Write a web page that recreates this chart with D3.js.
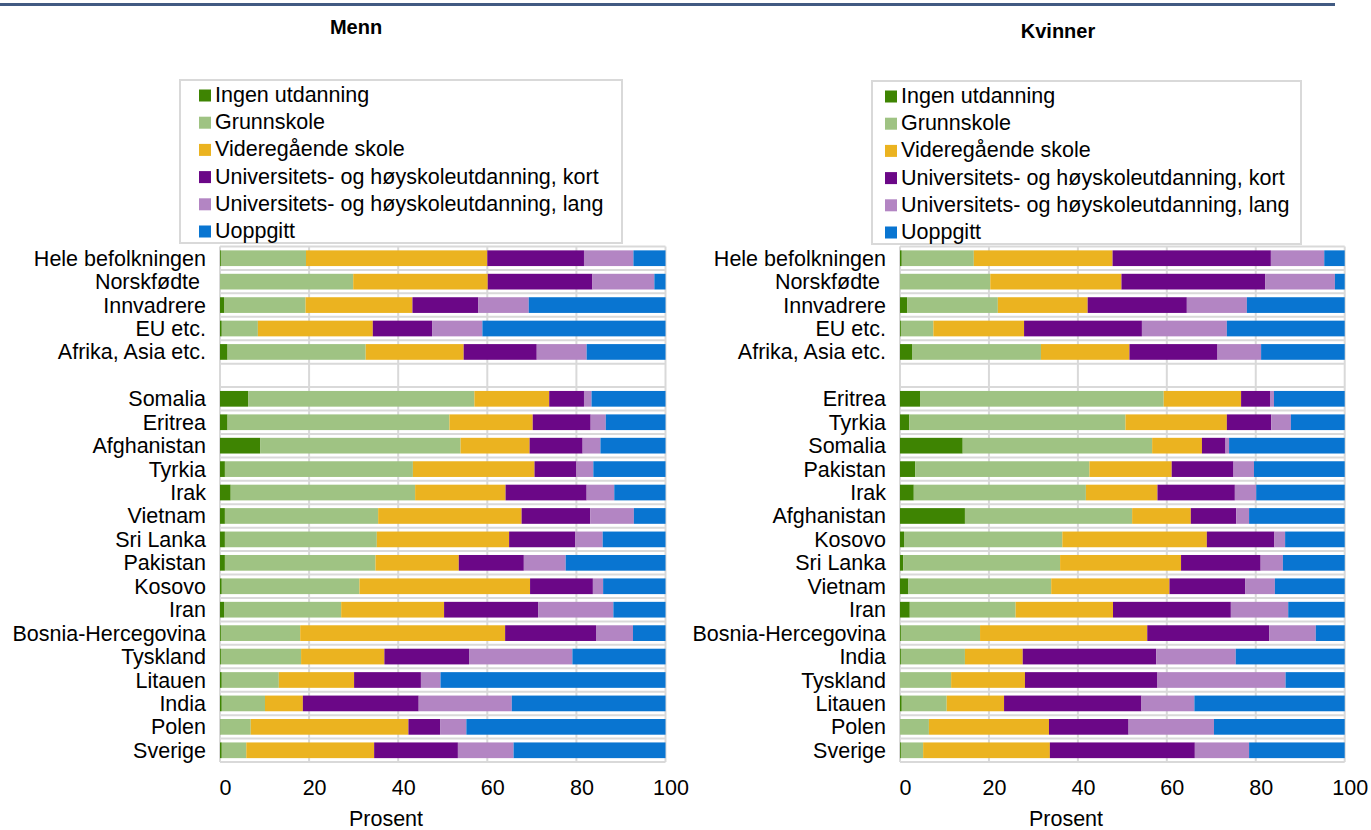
<!DOCTYPE html>
<html>
<head>
<meta charset="utf-8">
<script src="https://cdn.jsdelivr.net/npm/d3@7"></script>
<style>
  body { margin: 0; background: #fff; }
  svg { font-family: "Liberation Sans", Arial, sans-serif; }
  .cat { white-space: pre; }
</style>
</head>
<body>
<svg width="1371" height="830"></svg>
<script>
// serier og farger
var seriesNames = ["Ingen utdanning", "Grunnskole", "Videregående skole",
    "Universitets- og høyskoleutdanning, kort", "Universitets- og høyskoleutdanning, lang", "Uoppgitt"];
var seriesColors = ["#3e8402", "#9fc383", "#ebb320", "#6b0787", "#b385c3", "#0975d1"];
var tickValues = [0, 20, 40, 60, 80, 100];

// Menn
var menCategories = ["Hele befolkningen", "Norskfødte ", "Innvadrere", "EU etc.", "Afrika, Asia etc.", "",
    "Somalia", "Eritrea", "Afghanistan", "Tyrkia", "Irak", "Vietnam", "Sri Lanka", "Pakistan",
    "Kosovo", "Iran", "Bosnia-Hercegovina", "Tyskland", "Litauen", "India", "Polen", "Sverige"];
var menIngen    = [0.2, 0.0, 0.9, 0.4, 1.7, null, 6.3, 1.7, 9.0, 1.1, 2.4, 1.1, 1.1, 1.1, 0.4, 0.9, 0.2, 0.2, 0.4, 0.4, 0.1, 0.4];
var menGrunn    = [19.1, 29.9, 18.3, 8.1, 31.0, null, 50.8, 49.8, 45.0, 42.2, 41.4, 34.4, 34.1, 33.8, 30.9, 26.3, 17.8, 18.0, 12.8, 9.7, 6.8, 5.5];
var menVgs      = [40.7, 30.2, 24.0, 25.8, 22.0, null, 16.8, 18.7, 15.5, 27.3, 20.3, 32.2, 29.7, 18.7, 38.3, 23.1, 46.0, 18.7, 16.9, 8.5, 35.4, 28.7];
var menKort     = [21.7, 23.5, 14.8, 13.3, 16.4, null, 7.8, 13.0, 11.9, 9.4, 18.2, 15.4, 14.8, 14.6, 14.1, 21.1, 20.4, 19.0, 15.0, 26.0, 7.1, 18.8];
var menLang     = [11.1, 13.9, 11.3, 11.3, 11.2, null, 1.7, 3.4, 4.0, 3.8, 6.2, 9.8, 6.2, 9.4, 2.3, 16.9, 8.3, 23.2, 4.4, 20.9, 5.9, 12.5];
var menUoppgitt = [7.2, 2.5, 30.7, 41.1, 17.7, null, 16.6, 13.4, 14.6, 16.2, 11.5, 7.1, 14.1, 22.4, 14.0, 11.7, 7.3, 20.9, 50.5, 34.5, 44.7, 34.1];

// Kvinner
var womenCategories = ["Hele befolkningen", "Norskfødte ", "Innvadrere", "EU etc.", "Afrika, Asia etc.", "",
    "Eritrea", "Tyrkia", "Somalia", "Pakistan", "Irak", "Afghanistan", "Kosovo", "Sri Lanka",
    "Vietnam", "Iran", "Bosnia-Hercegovina", "India", "Tyskland", "Litauen", "Polen", "Sverige"];
var womenIngen    = [0.4, 0.0, 1.6, 0.2, 2.7, null, 4.5, 2.1, 14.1, 3.4, 3.1, 14.6, 0.9, 0.7, 1.9, 2.2, 0.2, 0.2, 0.0, 0.4, 0.0, 0.2];
var womenGrunn    = [16.2, 20.3, 20.4, 7.3, 29.0, null, 54.8, 48.6, 42.6, 39.2, 38.7, 37.6, 35.6, 35.3, 32.1, 23.8, 17.8, 14.4, 11.5, 10.1, 6.5, 5.0];
var womenVgs      = [31.2, 29.5, 20.2, 20.4, 19.9, null, 17.4, 22.8, 11.2, 18.5, 16.1, 13.2, 32.5, 27.2, 26.6, 21.9, 37.6, 13.0, 16.6, 12.9, 27.0, 28.5];
var womenKort     = [35.6, 32.3, 22.3, 26.5, 19.8, null, 6.5, 10.0, 5.3, 13.9, 17.4, 10.2, 15.2, 17.9, 17.0, 26.5, 27.4, 30.0, 29.8, 30.9, 17.9, 32.6];
var womenLang     = [12.0, 15.7, 13.5, 19.1, 9.8, null, 0.9, 4.4, 0.8, 4.6, 4.8, 2.9, 2.4, 5.0, 6.7, 12.9, 10.5, 17.9, 28.8, 11.9, 19.2, 12.2];
var womenUoppgitt = [4.6, 2.2, 22.0, 26.5, 18.8, null, 15.9, 12.1, 26.0, 20.4, 19.9, 21.5, 13.4, 13.9, 15.7, 12.7, 6.5, 24.5, 13.3, 33.8, 29.4, 21.5];

var svg = d3.select("svg");
var gridColor = "#d9d9d9";
var fontSize = 21.5;

// tykk strek øverst
svg.append("rect")
    .attr("x", 0).attr("y", 3)
    .attr("width", 1335).attr("height", 3)
    .attr("fill", "#415a82");

function tegnPanel(opt) {
    var rows = opt.categories.map(function (c, i) {
        var r = { cat: c, idx: i };
        opt.series.forEach(function (s, j) { r[seriesNames[j]] = s[i] == null ? 0 : s[i]; });
        return r;
    });

    var x = d3.scaleLinear().domain([0, 100]).range([opt.x0, opt.x1]);
    var y = d3.scaleBand()
        .domain(rows.map(function (d) { return d.idx; }))
        .range([opt.top, opt.bottom])
        .paddingInner(0.33).paddingOuter(0.165);

    var g = svg.append("g");

    // tittel
    g.append("text")
        .attr("x", opt.titleX).attr("y", opt.titleY)
        .attr("text-anchor", "middle")
        .attr("font-size", 20).attr("font-weight", "bold")
        .text(opt.title);

    // rutenett
    var step = y.step();
    g.selectAll(".hgrid")
        .data(d3.range(rows.length + 1))
        .enter().append("line")
        .attr("x1", opt.x0).attr("x2", opt.x1)
        .attr("y1", function (i) { return opt.top + i * step; })
        .attr("y2", function (i) { return opt.top + i * step; })
        .attr("stroke", gridColor).attr("stroke-width", 2);

    g.selectAll(".vgrid")
        .data(tickValues)
        .enter().append("line")
        .attr("x1", function (d) { return x(d); })
        .attr("x2", function (d) { return x(d); })
        .attr("y1", opt.top).attr("y2", opt.bottom)
        .attr("stroke", gridColor).attr("stroke-width", 2);

    // stolper
    var stack = d3.stack().keys(seriesNames)(rows);
    g.selectAll(".serie")
        .data(stack)
        .enter().append("g")
        .attr("fill", function (d, i) { return seriesColors[i]; })
        .selectAll("rect")
        .data(function (d) { return d.filter(function (p) { return p[1] - p[0] > 0; }); })
        .enter().append("rect")
        .attr("x", function (p) { return x(p[0]); })
        .attr("width", function (p) { return x(p[1]) - x(p[0]); })
        .attr("y", function (p) { return y(p.data.idx); })
        .attr("height", y.bandwidth());

    // kategorier
    g.selectAll(".cat")
        .data(rows)
        .enter().append("text")
        .attr("class", "cat")
        .attr("x", opt.labelX)
        .attr("y", function (d) { return y(d.idx) + y.bandwidth() / 2; })
        .attr("dy", "0.35em")
        .attr("text-anchor", "end")
        .attr("font-size", fontSize)
        .text(function (d) { return d.cat; });

    // x-akse
    var axis = g.append("g")
        .attr("transform", "translate(5," + (opt.bottom + 17.5) + ")")
        .call(d3.axisBottom(x).tickValues(tickValues).tickSize(0).tickPadding(0));
    axis.select(".domain").remove();
    axis.selectAll("text")
        .attr("font-size", fontSize)
        .attr("font-family", "Liberation Sans, Arial, sans-serif")
        .attr("fill", "#000");

    g.append("text")
        .attr("x", opt.axisTitleX).attr("y", opt.bottom + 63.5)
        .attr("text-anchor", "middle")
        .attr("font-size", fontSize)
        .text("Prosent");

    // forklaring
    var leg = g.append("g").attr("transform", "translate(" + opt.legX + "," + opt.legY + ")");
    leg.append("rect")
        .attr("width", opt.legW).attr("height", 163)
        .attr("fill", "#fff")
        .attr("stroke", gridColor).attr("stroke-width", 2);
    var item = leg.selectAll(".item")
        .data(seriesNames)
        .enter().append("g")
        .attr("transform", function (d, i) { return "translate(" + opt.legPad + "," + (14.5 + i * 27.2) + ")"; });
    item.append("rect")
        .attr("x", 0).attr("y", -5)
        .attr("width", 12).attr("height", 12)
        .attr("fill", function (d, i) { return seriesColors[i]; });
    item.append("text")
        .attr("x", 16).attr("dy", "0.35em")
        .attr("font-size", fontSize)
        .text(function (d) { return d; });
}

tegnPanel({
    title: "Menn", titleX: 356, titleY: 34,
    categories: menCategories,
    series: [menIngen, menGrunn, menVgs, menKort, menLang, menUoppgitt],
    x0: 220, x1: 665.5, top: 246.5, bottom: 762,
    labelX: 206, axisTitleX: 386,
    legX: 180, legY: 80, legW: 442, legPad: 19
});

tegnPanel({
    title: "Kvinner", titleX: 1058, titleY: 38,
    categories: womenCategories,
    series: [womenIngen, womenGrunn, womenVgs, womenKort, womenLang, womenUoppgitt],
    x0: 900, x1: 1344.7, top: 246.5, bottom: 762,
    labelX: 886, axisTitleX: 1066,
    legX: 872, legY: 81, legW: 429, legPad: 13
});
</script>
</body>
</html>
